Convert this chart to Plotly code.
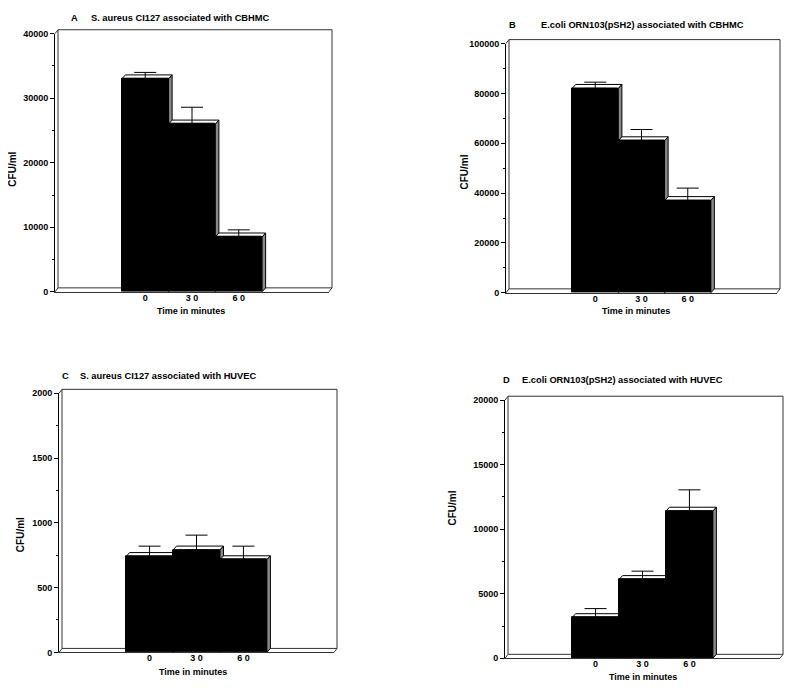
import plotly.graph_objects as go

# ---- data ----
times = [0, 1, 2]
tick_text = ["0", "3 0", "6 0"]

a_vals = [33000, 26000, 8500]
a_err = [1000, 2600, 1100]
b_vals = [82000, 61000, 37000]
b_err = [2500, 4500, 5000]
c_vals = [740, 790, 715]
c_err = [80, 115, 105]
d_vals = [3150, 6100, 11400]
d_err = [700, 650, 1650]

panel_letters = ["A", "B", "C", "D"]
panel_titles = [
    "S. aureus CI127 associated with CBHMC",
    "E.coli ORN103(pSH2) associated with CBHMC",
    "S. aureus CI127 associated with HUVEC",
    "E.coli ORN103(pSH2) associated with HUVEC",
]
y_max = [40000, 100000, 2000, 20000]
y_dtick = [10000, 20000, 500, 5000]
y_label = "CFU/ml"
x_label = "Time in minutes"

# the page body has an 8px margin; the figure is sized so it fits the window
OFF = 8
W, H = 784, 674
FONT = "Liberation Sans, Arial, Helvetica, sans-serif"


def fx(px):
    return (px - OFF) / W


def fy(py):
    return 1 - (py - OFF) / H


# panel geometry in window pixels: front-left x, front-right x, bottom y (value 0), top y (max)
geom = [
    (55, 329, 291, 29),
    (506, 777, 292, 39),
    (59, 334, 657, 394),
    (505, 780, 663, 401),
]
letter_pos = [(74, 13, 89), (512, 20, 539), (65, 376, 78), (506, 381, 520)]
ylab_pos = [(13, 167), (465, 170), (20, 538), (453, 510)]
xlab_pos = [(191, 310), (636, 310), (193, 677), (643, 682)]

series = [(a_vals, a_err), (b_vals, b_err), (c_vals, c_err), (d_vals, d_err)]

fig = go.Figure()
layout = {}
shapes = []
annotations = []

XR = [-1.93, 3.93]
for k in range(4):
    vals, errs = series[k]
    xl, xr, yb, yt = geom[k]
    sfx = "" if k == 0 else str(k + 1)
    xa, ya = "x" + sfx, "y" + sfx
    fig.add_trace(go.Bar(
        x=times, y=vals, xaxis=xa, yaxis=ya, width=1.0,
        marker=dict(color="black", line=dict(color="black", width=1)),
        error_y=dict(type="data", array=errs, arrayminus=[0] * len(errs),
                     symmetric=False, color="black", thickness=1, width=11),
        showlegend=False, hoverinfo="y",
    ))
    layout["xaxis" + sfx] = dict(
        domain=[fx(xl), fx(xr)], anchor=ya, range=XR, tickvals=times,
        ticktext=tick_text, showgrid=False, zeroline=False, showline=True,
        linecolor="#333", linewidth=1, ticks="", fixedrange=True,
        ticklabelstandoff=-3,
        tickfont=dict(family=FONT, size=9, color="black", weight=700),
    )
    layout["yaxis" + sfx] = dict(
        domain=[fy(yb), fy(yt)], anchor=xa, range=[0, y_max[k]],
        dtick=y_dtick[k], showgrid=False, zeroline=False, showline=True,
        linecolor="black", linewidth=1, ticks="outside", ticklen=4,
        tickcolor="black", tickformat="d", fixedrange=True,
        minor=dict(dtick=y_dtick[k] / 2, ticks="outside", ticklen=2, tickcolor="black"),
        tickfont=dict(family=FONT, size=9, color="black", weight=700),
    )

    # 3-D frame: back wall, left wall and floor
    pw, ph = xr - xl, yb - yt
    dxf, dyf = 3.0 / pw, 4.0 / ph
    xd, yd = xa + " domain", ya + " domain"
    shapes.append(dict(type="rect", xref=xd, yref=yd, x0=dxf, y0=dyf, x1=1 + dxf, y1=1 + dyf,
                       line=dict(color="#333", width=1), fillcolor="white", layer="below"))
    for (x0, y0, x1, y1) in [(0, 1, dxf, 1 + dyf), (0, 0, dxf, dyf), (1, 0, 1 + dxf, dyf)]:
        shapes.append(dict(type="line", xref=xd, yref=yd, x0=x0, y0=y0, x1=x1, y1=y1,
                           line=dict(color="#333", width=1), layer="below"))

    # 3-D faces of the bars (top and right side), derived from the values
    unit = pw / (XR[1] - XR[0])
    ddx = 3.5 / unit
    ddy = 4.0 / ph * y_max[k]
    for i, v in zip(times, vals):
        x0, x1 = i - 0.5, i + 0.5
        shapes.append(dict(type="path", xref=xa, yref=ya,
                           path=f"M {x0},{v} L {x1},{v} L {x1 + ddx},{v + ddy} L {x0 + ddx},{v + ddy} Z",
                           fillcolor="white", line=dict(color="black", width=1), layer="below"))
        shapes.append(dict(type="path", xref=xa, yref=ya,
                           path=f"M {x1},0 L {x1 + ddx},{ddy} L {x1 + ddx},{v + ddy} L {x1},{v} Z",
                           fillcolor="#8a8a8a", line=dict(color="black", width=1), layer="below"))

    # text
    lx, ly, tx = letter_pos[k]
    annotations.append(dict(text=panel_letters[k], x=fx(lx), y=fy(ly), xref="paper", yref="paper",
                            xanchor="center", yanchor="middle", showarrow=False,
                            font=dict(family=FONT, size=9.3, color="black", weight=700)))
    annotations.append(dict(text=panel_titles[k], x=fx(tx), y=fy(ly), xref="paper", yref="paper",
                            xanchor="left", yanchor="middle", showarrow=False,
                            font=dict(family=FONT, size=9.3, color="black", weight=700)))
    px, py = ylab_pos[k]
    annotations.append(dict(text=y_label, x=fx(px), y=fy(py), xref="paper", yref="paper",
                            xanchor="center", yanchor="middle", showarrow=False, textangle=-90,
                            font=dict(family=FONT, size=10, color="black", weight=700)))
    qx, qy = xlab_pos[k]
    annotations.append(dict(text=x_label, x=fx(qx), y=fy(qy), xref="paper", yref="paper",
                            xanchor="center", yanchor="middle", showarrow=False,
                            font=dict(family=FONT, size=9, color="black", weight=700)))

fig.update_layout(
    width=W, height=H, margin=dict(l=0, r=0, t=0, b=0),
    paper_bgcolor="white", plot_bgcolor="white",
    bargap=0, shapes=shapes, annotations=annotations, **layout,
)

fig.write_html("out.html", config={"displayModeBar": False})
